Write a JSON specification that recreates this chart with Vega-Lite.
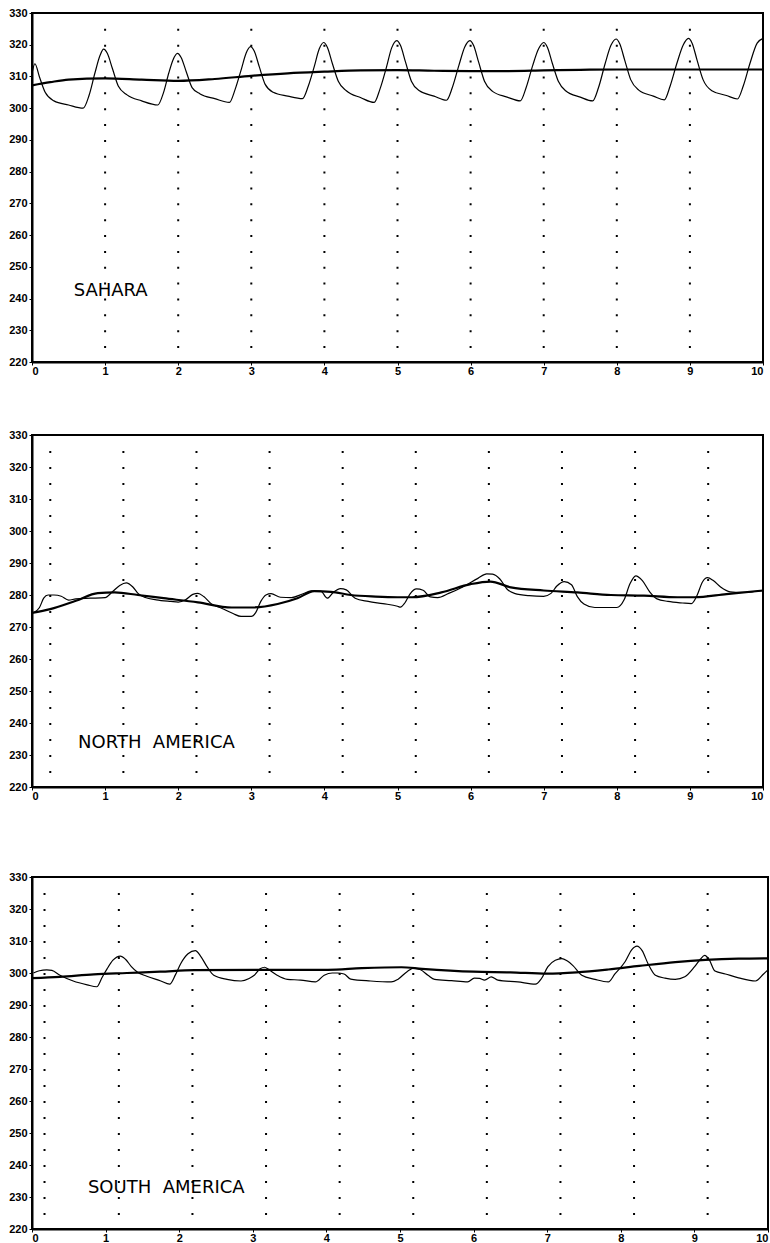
{
  "$schema": "https://vega.github.io/schema/vega-lite/v6.json",
  "background": "white",
  "padding": {"left": 0, "top": 6, "right": 0, "bottom": 0},
  "config": {
    "view": {"stroke": "black", "strokeWidth": 2},
    "axis": {
      "grid": false,
      "title": null,
      "domainColor": "black",
      "domainWidth": 2,
      "tickColor": "black",
      "tickSize": 3,
      "labelColor": "black",
      "labelFont": "Liberation Sans",
      "labelFontSize": 11,
      "labelFontWeight": "bold",
      "labelPadding": 1,
      "labelOverlap": false,
      "format": "d"
    },
    "axisX": {"labelFlush": true, "labelPadding": 0},
    "axisY": {"values": [220, 230, 240, 250, 260, 270, 280, 290, 300, 310, 320, 330], "labelPadding": 2, "minExtent": 10},
    "text": {"font": "DejaVu Sans", "fontSize": 18, "color": "black", "align": "left", "baseline": "middle"}
  },
  "datasets": {
    "grid_int": [{"x": 1}, {"x": 2}, {"x": 3}, {"x": 4}, {"x": 5}, {"x": 6}, {"x": 7}, {"x": 8}, {"x": 9}],
    "grid_na": [{"x": 0.25}, {"x": 1.25}, {"x": 2.25}, {"x": 3.25}, {"x": 4.25}, {"x": 5.25}, {"x": 6.25}, {"x": 7.25}, {"x": 8.25}, {"x": 9.25}],
    "grid_sa": [{"x": 0.17}, {"x": 1.18}, {"x": 2.18}, {"x": 3.18}, {"x": 4.18}, {"x": 5.18}, {"x": 6.18}, {"x": 7.18}, {"x": 8.18}, {"x": 9.18}],
    "labels_sahara": [{"x": 0.57, "y": 242.5, "label": "SAHARA"}],
    "labels_na": [{"x": 0.63, "y": 233.7, "label": "NORTH\u00a0 AMERICA"}],
    "labels_sa": [{"x": 0.76, "y": 232.8, "label": "SOUTH\u00a0 AMERICA"}],
    "sahara_s": [
      {"x": 0, "v": 311}, {"x": 0.04, "v": 314}, {"x": 0.1, "v": 310}, {"x": 0.18, "v": 305}, {"x": 0.3, "v": 302.3}, {"x": 0.5, "v": 301}, {"x": 0.7, "v": 300},
      {"x": 0.78, "v": 304}, {"x": 0.86, "v": 311}, {"x": 0.93, "v": 316.6}, {"x": 0.98, "v": 318.6},
      {"x": 1.03, "v": 317.3}, {"x": 1.1, "v": 312.5}, {"x": 1.18, "v": 307}, {"x": 1.3, "v": 304.2}, {"x": 1.5, "v": 302.3}, {"x": 1.72, "v": 301},
      {"x": 1.8, "v": 305}, {"x": 1.87, "v": 311}, {"x": 1.93, "v": 315.3}, {"x": 1.99, "v": 317.3},
      {"x": 2.04, "v": 316}, {"x": 2.11, "v": 311.5}, {"x": 2.19, "v": 306.5}, {"x": 2.3, "v": 304.5}, {"x": 2.5, "v": 303}, {"x": 2.7, "v": 301.8},
      {"x": 2.78, "v": 306}, {"x": 2.86, "v": 312}, {"x": 2.93, "v": 317.4}, {"x": 2.99, "v": 319.4},
      {"x": 3.04, "v": 318}, {"x": 3.11, "v": 313}, {"x": 3.19, "v": 307.5}, {"x": 3.3, "v": 305}, {"x": 3.5, "v": 303.8}, {"x": 3.7, "v": 303},
      {"x": 3.78, "v": 307}, {"x": 3.86, "v": 313}, {"x": 3.93, "v": 318.7}, {"x": 3.99, "v": 320.7},
      {"x": 4.04, "v": 319.2}, {"x": 4.11, "v": 314}, {"x": 4.19, "v": 308.5}, {"x": 4.3, "v": 305.5}, {"x": 4.5, "v": 303.3}, {"x": 4.68, "v": 301.8},
      {"x": 4.76, "v": 306}, {"x": 4.85, "v": 313}, {"x": 4.92, "v": 319}, {"x": 4.99, "v": 321.3},
      {"x": 5.04, "v": 319.8}, {"x": 5.11, "v": 314.5}, {"x": 5.19, "v": 308.5}, {"x": 5.3, "v": 305.5}, {"x": 5.5, "v": 303.8}, {"x": 5.67, "v": 302.5},
      {"x": 5.75, "v": 306.5}, {"x": 5.84, "v": 313.5}, {"x": 5.92, "v": 319.3}, {"x": 5.99, "v": 321.3},
      {"x": 6.04, "v": 319.8}, {"x": 6.11, "v": 314.5}, {"x": 6.19, "v": 308.5}, {"x": 6.3, "v": 305.3}, {"x": 6.5, "v": 303.5}, {"x": 6.68, "v": 302.3},
      {"x": 6.76, "v": 306.5}, {"x": 6.85, "v": 313.5}, {"x": 6.93, "v": 318.7}, {"x": 7.0, "v": 320.7},
      {"x": 7.05, "v": 319.2}, {"x": 7.12, "v": 314}, {"x": 7.2, "v": 308.5}, {"x": 7.3, "v": 305.5}, {"x": 7.5, "v": 303.5}, {"x": 7.67, "v": 302.3},
      {"x": 7.75, "v": 306.5}, {"x": 7.84, "v": 314}, {"x": 7.92, "v": 319.8}, {"x": 7.99, "v": 321.8},
      {"x": 8.04, "v": 320.3}, {"x": 8.11, "v": 315}, {"x": 8.19, "v": 309}, {"x": 8.3, "v": 305.7}, {"x": 8.5, "v": 303.8}, {"x": 8.65, "v": 302.6},
      {"x": 8.73, "v": 307}, {"x": 8.82, "v": 314}, {"x": 8.91, "v": 320}, {"x": 8.98, "v": 322},
      {"x": 9.03, "v": 320.5}, {"x": 9.1, "v": 315}, {"x": 9.18, "v": 309}, {"x": 9.3, "v": 305.5}, {"x": 9.5, "v": 304}, {"x": 9.65, "v": 302.9},
      {"x": 9.73, "v": 307}, {"x": 9.82, "v": 314}, {"x": 9.92, "v": 320.5}, {"x": 10.0, "v": 322}
    ],
    "sahara_m": [
      {"x": 0, "v": 307.2}, {"x": 0.25, "v": 308.2}, {"x": 0.5, "v": 309}, {"x": 1, "v": 309.4}, {"x": 1.5, "v": 309}, {"x": 2, "v": 308.6},
      {"x": 2.5, "v": 309.2}, {"x": 3, "v": 310.2}, {"x": 3.5, "v": 311}, {"x": 4, "v": 311.5}, {"x": 4.5, "v": 311.9}, {"x": 5, "v": 312},
      {"x": 5.5, "v": 311.8}, {"x": 6, "v": 311.7}, {"x": 6.5, "v": 311.7}, {"x": 7, "v": 311.9}, {"x": 7.5, "v": 312.1}, {"x": 8, "v": 312.2},
      {"x": 8.5, "v": 312.2}, {"x": 9, "v": 312.2}, {"x": 9.5, "v": 312.2}, {"x": 10, "v": 312.2}
    ],
    "na_s": [
      {"x": 0.03, "v": 274.6}, {"x": 0.1, "v": 276}, {"x": 0.16, "v": 279}, {"x": 0.22, "v": 280}, {"x": 0.3, "v": 280}, {"x": 0.4, "v": 279.6},
      {"x": 0.5, "v": 278.4}, {"x": 0.6, "v": 278.8}, {"x": 0.8, "v": 279}, {"x": 1.0, "v": 279.2}, {"x": 1.1, "v": 281}, {"x": 1.2, "v": 283},
      {"x": 1.29, "v": 283.8}, {"x": 1.38, "v": 282.5}, {"x": 1.45, "v": 280.5}, {"x": 1.55, "v": 279.2}, {"x": 1.7, "v": 278.5}, {"x": 1.9, "v": 278},
      {"x": 2.0, "v": 277.8}, {"x": 2.1, "v": 278.5}, {"x": 2.2, "v": 280.2}, {"x": 2.27, "v": 280.5}, {"x": 2.35, "v": 279.5}, {"x": 2.45, "v": 277.3},
      {"x": 2.6, "v": 275.8}, {"x": 2.75, "v": 274.2}, {"x": 2.86, "v": 273.3}, {"x": 3.0, "v": 273.3}, {"x": 3.06, "v": 274.5}, {"x": 3.13, "v": 278},
      {"x": 3.2, "v": 280}, {"x": 3.27, "v": 280.4}, {"x": 3.4, "v": 279.3}, {"x": 3.55, "v": 279.2}, {"x": 3.7, "v": 280.3}, {"x": 3.82, "v": 281.3},
      {"x": 3.95, "v": 281.2}, {"x": 4.04, "v": 279}, {"x": 4.12, "v": 280.8}, {"x": 4.22, "v": 282}, {"x": 4.3, "v": 281.6}, {"x": 4.42, "v": 279},
      {"x": 4.6, "v": 278}, {"x": 4.8, "v": 277.3}, {"x": 5.0, "v": 276.5}, {"x": 5.04, "v": 276.2}, {"x": 5.1, "v": 277.5}, {"x": 5.17, "v": 280.3},
      {"x": 5.26, "v": 281.9}, {"x": 5.35, "v": 281.5}, {"x": 5.45, "v": 279.4}, {"x": 5.55, "v": 279.2}, {"x": 5.7, "v": 280.5}, {"x": 5.9, "v": 282.6},
      {"x": 6.1, "v": 285.2}, {"x": 6.22, "v": 286.6}, {"x": 6.3, "v": 286.5}, {"x": 6.4, "v": 285}, {"x": 6.5, "v": 281.8}, {"x": 6.6, "v": 280.5},
      {"x": 6.8, "v": 279.8}, {"x": 7.0, "v": 279.6}, {"x": 7.1, "v": 280.5}, {"x": 7.18, "v": 282.8}, {"x": 7.28, "v": 284.2}, {"x": 7.38, "v": 283.2},
      {"x": 7.46, "v": 279.5}, {"x": 7.55, "v": 277.2}, {"x": 7.7, "v": 276.1}, {"x": 8.0, "v": 276.1}, {"x": 8.1, "v": 278.5}, {"x": 8.18, "v": 283.5},
      {"x": 8.26, "v": 286}, {"x": 8.35, "v": 284.5}, {"x": 8.45, "v": 281}, {"x": 8.55, "v": 278.8}, {"x": 8.7, "v": 278}, {"x": 8.9, "v": 277.5},
      {"x": 9.02, "v": 277.3}, {"x": 9.1, "v": 280}, {"x": 9.17, "v": 284}, {"x": 9.24, "v": 285.4}, {"x": 9.32, "v": 284.5}, {"x": 9.42, "v": 282.5},
      {"x": 9.55, "v": 281}, {"x": 9.7, "v": 280.8}, {"x": 9.85, "v": 281}, {"x": 10.0, "v": 281.4}
    ],
    "na_m": [
      {"x": 0, "v": 274.4}, {"x": 0.25, "v": 275.6}, {"x": 0.6, "v": 278.2}, {"x": 0.9, "v": 280.6}, {"x": 1.13, "v": 280.8}, {"x": 1.45, "v": 280},
      {"x": 1.8, "v": 279}, {"x": 2.27, "v": 277.7}, {"x": 2.73, "v": 276.1}, {"x": 3.0, "v": 276.1}, {"x": 3.36, "v": 277.2}, {"x": 3.63, "v": 279},
      {"x": 3.86, "v": 281.2}, {"x": 4.09, "v": 281}, {"x": 4.36, "v": 280}, {"x": 4.7, "v": 279.5}, {"x": 5.0, "v": 279.3}, {"x": 5.2, "v": 279.3},
      {"x": 5.6, "v": 280.8}, {"x": 6.0, "v": 283.4}, {"x": 6.27, "v": 284.2}, {"x": 6.55, "v": 282.4}, {"x": 7.0, "v": 281.4}, {"x": 7.46, "v": 280.8},
      {"x": 7.92, "v": 280}, {"x": 8.37, "v": 279.8}, {"x": 8.83, "v": 279.3}, {"x": 9.06, "v": 279.3}, {"x": 9.5, "v": 280.3}, {"x": 10, "v": 281.4}
    ],
    "sa_s": [
      {"x": 0.02, "v": 300}, {"x": 0.1, "v": 300.7}, {"x": 0.2, "v": 301}, {"x": 0.27, "v": 300.8}, {"x": 0.38, "v": 299.3}, {"x": 0.56, "v": 297.5},
      {"x": 0.75, "v": 296.3}, {"x": 0.88, "v": 295.7}, {"x": 0.95, "v": 298.5}, {"x": 1.02, "v": 301.3}, {"x": 1.1, "v": 304}, {"x": 1.2, "v": 305.3},
      {"x": 1.27, "v": 304.3}, {"x": 1.35, "v": 302}, {"x": 1.43, "v": 300.3}, {"x": 1.56, "v": 299}, {"x": 1.75, "v": 297.5}, {"x": 1.87, "v": 296.5},
      {"x": 1.95, "v": 299.5}, {"x": 2.02, "v": 302.9}, {"x": 2.12, "v": 306}, {"x": 2.22, "v": 307}, {"x": 2.29, "v": 305.3}, {"x": 2.38, "v": 301.9},
      {"x": 2.47, "v": 299.3}, {"x": 2.65, "v": 298}, {"x": 2.84, "v": 297.5}, {"x": 2.95, "v": 298.3}, {"x": 3.02, "v": 299.3}, {"x": 3.1, "v": 301.3},
      {"x": 3.16, "v": 301.8}, {"x": 3.22, "v": 301}, {"x": 3.33, "v": 299.3}, {"x": 3.47, "v": 298}, {"x": 3.65, "v": 297.8}, {"x": 3.85, "v": 297.2},
      {"x": 3.97, "v": 299.3}, {"x": 4.08, "v": 300}, {"x": 4.15, "v": 300}, {"x": 4.24, "v": 299.7}, {"x": 4.33, "v": 298.1}, {"x": 4.6, "v": 297.5},
      {"x": 4.88, "v": 297.2}, {"x": 4.97, "v": 298}, {"x": 5.1, "v": 300.5}, {"x": 5.19, "v": 301.5}, {"x": 5.28, "v": 301}, {"x": 5.38, "v": 299.3},
      {"x": 5.47, "v": 298}, {"x": 5.7, "v": 297.6}, {"x": 5.92, "v": 297.2}, {"x": 6.01, "v": 298.4}, {"x": 6.08, "v": 298.3}, {"x": 6.15, "v": 297.8},
      {"x": 6.24, "v": 298.8}, {"x": 6.33, "v": 297.8}, {"x": 6.6, "v": 297.2}, {"x": 6.84, "v": 296.5}, {"x": 6.92, "v": 298.2}, {"x": 7.01, "v": 302},
      {"x": 7.11, "v": 304}, {"x": 7.2, "v": 304.5}, {"x": 7.27, "v": 303.8}, {"x": 7.35, "v": 302.3}, {"x": 7.47, "v": 299.3}, {"x": 7.65, "v": 298},
      {"x": 7.83, "v": 297.2}, {"x": 7.92, "v": 299.7}, {"x": 8.06, "v": 303.6}, {"x": 8.15, "v": 307.3}, {"x": 8.22, "v": 308.4}, {"x": 8.29, "v": 307},
      {"x": 8.37, "v": 302.9}, {"x": 8.47, "v": 299.3}, {"x": 8.6, "v": 298.4}, {"x": 8.74, "v": 298}, {"x": 8.87, "v": 298.8}, {"x": 9.0, "v": 301.9},
      {"x": 9.08, "v": 304.3}, {"x": 9.14, "v": 305.5}, {"x": 9.2, "v": 304.2}, {"x": 9.28, "v": 300.6}, {"x": 9.42, "v": 299.7}, {"x": 9.6, "v": 298.5},
      {"x": 9.83, "v": 297.5}, {"x": 9.94, "v": 299.7}, {"x": 10.0, "v": 301}
    ],
    "sa_m": [
      {"x": 0, "v": 298.4}, {"x": 0.38, "v": 298.8}, {"x": 0.84, "v": 299.6}, {"x": 1.29, "v": 300}, {"x": 1.74, "v": 300.4}, {"x": 2.2, "v": 300.9},
      {"x": 3.11, "v": 301}, {"x": 4.02, "v": 301}, {"x": 4.48, "v": 301.5}, {"x": 5.02, "v": 301.8}, {"x": 5.3, "v": 301.3}, {"x": 6.0, "v": 300.4},
      {"x": 6.5, "v": 300.2}, {"x": 7.0, "v": 299.8}, {"x": 7.4, "v": 300.2}, {"x": 7.83, "v": 301.1}, {"x": 8.25, "v": 302.2}, {"x": 8.74, "v": 303.4},
      {"x": 9.15, "v": 304.1}, {"x": 9.6, "v": 304.5}, {"x": 10, "v": 304.6}
    ]
  },
  "vconcat": [
    {
      "vconcat": [
        {
          "width": 731,
          "height": 349,
          "layer": [
            {
              "data": {"name": "sahara_s"},
              "mark": {"type": "line", "color": "black", "strokeWidth": 1.2, "interpolate": "monotone"},
              "encoding": {
                "x": {"field": "x", "type": "quantitative", "scale": {"domain": [0, 10], "nice": false, "zero": false}, "axis": {"values": [0, 1, 2, 3, 4, 5, 6, 7, 8, 9, 10]}},
                "y": {"field": "v", "type": "quantitative", "scale": {"domain": [220, 330], "nice": false, "zero": false}, "axis": {"minExtent": 31}}
              }
            },
            {
              "data": {"name": "grid_int"},
              "mark": {"type": "rule", "color": "black", "strokeWidth": 2, "strokeDash": [2, 13.86]},
              "encoding": {"x": {"field": "x", "type": "quantitative", "axis": {"values": [0, 1, 2, 3, 4, 5, 6, 7, 8, 9, 10]}}, "y": {"datum": 325, "type": "quantitative", "axis": {"minExtent": 31}}, "y2": {"datum": 224.4}}
            },
            {
              "data": {"name": "sahara_m"},
              "mark": {"type": "line", "color": "black", "strokeWidth": 2.2, "interpolate": "monotone"},
              "encoding": {"x": {"field": "x", "type": "quantitative", "axis": {"values": [0, 1, 2, 3, 4, 5, 6, 7, 8, 9, 10]}}, "y": {"field": "v", "type": "quantitative", "axis": {"minExtent": 31}}}
            },
            {
              "data": {"name": "labels_sahara"},
              "mark": {"type": "text"},
              "encoding": {"x": {"field": "x", "type": "quantitative", "axis": {"values": [0, 1, 2, 3, 4, 5, 6, 7, 8, 9, 10]}}, "y": {"field": "y", "type": "quantitative", "axis": {"minExtent": 31}}, "text": {"field": "label"}}
            }
          ]
        },
        {
          "width": 731,
          "height": 352,
          "layer": [
            {
              "data": {"name": "na_s"},
              "mark": {"type": "line", "color": "black", "strokeWidth": 1.2, "interpolate": "monotone"},
              "encoding": {
                "x": {"field": "x", "type": "quantitative", "scale": {"domain": [0, 10], "nice": false, "zero": false}, "axis": {"values": [0, 1, 2, 3, 4, 5, 6, 7, 8, 9, 10]}},
                "y": {"field": "v", "type": "quantitative", "scale": {"domain": [220, 330], "nice": false, "zero": false}, "axis": {"minExtent": 31}}
              }
            },
            {
              "data": {"name": "grid_na"},
              "mark": {"type": "rule", "color": "black", "strokeWidth": 2, "strokeDash": [2, 14]},
              "encoding": {"x": {"field": "x", "type": "quantitative", "axis": {"values": [0, 1, 2, 3, 4, 5, 6, 7, 8, 9, 10]}}, "y": {"datum": 325, "type": "quantitative", "axis": {"minExtent": 31}}, "y2": {"datum": 224.4}}
            },
            {
              "data": {"name": "na_m"},
              "mark": {"type": "line", "color": "black", "strokeWidth": 2.2, "interpolate": "monotone"},
              "encoding": {"x": {"field": "x", "type": "quantitative", "axis": {"values": [0, 1, 2, 3, 4, 5, 6, 7, 8, 9, 10]}}, "y": {"field": "v", "type": "quantitative", "axis": {"minExtent": 31}}}
            },
            {
              "data": {"name": "labels_na"},
              "mark": {"type": "text"},
              "encoding": {"x": {"field": "x", "type": "quantitative", "axis": {"values": [0, 1, 2, 3, 4, 5, 6, 7, 8, 9, 10]}}, "y": {"field": "y", "type": "quantitative", "axis": {"minExtent": 31}}, "text": {"field": "label"}}
            }
          ]
        }
      ],
      "spacing": 51
    },
    {
      "width": 736,
      "height": 352,
      "layer": [
        {
          "data": {"name": "sa_s"},
          "mark": {"type": "line", "color": "black", "strokeWidth": 1.2, "interpolate": "monotone"},
          "encoding": {
            "x": {"field": "x", "type": "quantitative", "scale": {"domain": [0, 10], "nice": false, "zero": false}, "axis": {"values": [0, 1, 2, 3, 4, 5, 6, 7, 8, 9, 10]}},
            "y": {"field": "v", "type": "quantitative", "scale": {"domain": [220, 330], "nice": false, "zero": false}, "axis": {"minExtent": 31}}
          }
        },
        {
          "data": {"name": "grid_sa"},
          "mark": {"type": "rule", "color": "black", "strokeWidth": 2, "strokeDash": [2, 14]},
          "encoding": {"x": {"field": "x", "type": "quantitative", "axis": {"values": [0, 1, 2, 3, 4, 5, 6, 7, 8, 9, 10]}}, "y": {"datum": 325, "type": "quantitative", "axis": {"minExtent": 31}}, "y2": {"datum": 224.4}}
        },
        {
          "data": {"name": "sa_m"},
          "mark": {"type": "line", "color": "black", "strokeWidth": 2.2, "interpolate": "monotone"},
          "encoding": {"x": {"field": "x", "type": "quantitative", "axis": {"values": [0, 1, 2, 3, 4, 5, 6, 7, 8, 9, 10]}}, "y": {"field": "v", "type": "quantitative", "axis": {"minExtent": 31}}}
        },
        {
          "data": {"name": "labels_sa"},
          "mark": {"type": "text"},
          "encoding": {"x": {"field": "x", "type": "quantitative", "axis": {"values": [0, 1, 2, 3, 4, 5, 6, 7, 8, 9, 10]}}, "y": {"field": "y", "type": "quantitative", "axis": {"minExtent": 31}}, "text": {"field": "label"}}
        }
      ]
    }
  ],
  "spacing": 68
}
